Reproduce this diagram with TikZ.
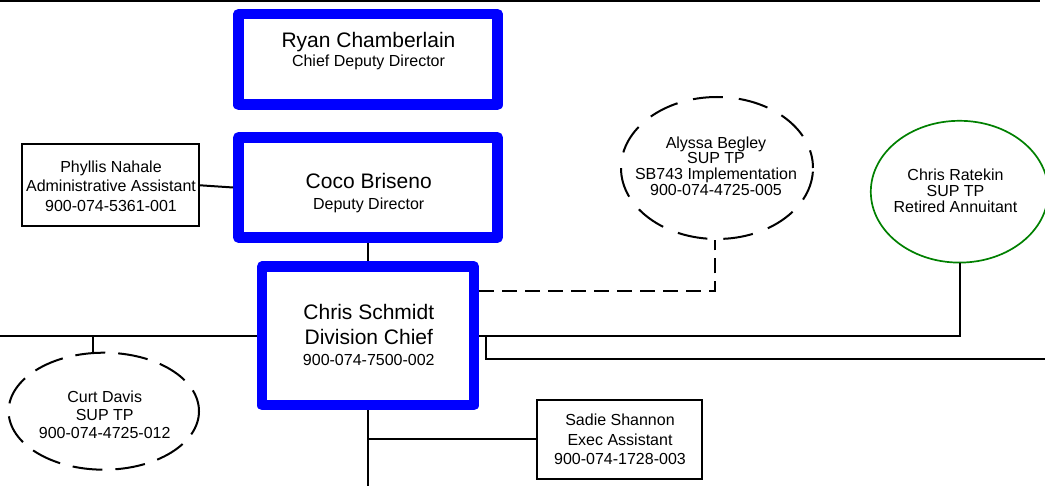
\documentclass[tikz,border=0pt]{standalone}
\usepackage{fontspec}
\setmainfont{Liberation Sans}
\usetikzlibrary{shapes.geometric}
\definecolor{orggreen}{RGB}{0,128,0}
\begin{document}
\begin{tikzpicture}[x=1pt,y=-1pt,
  bluebox/.style={draw=blue, line width=10.5pt, line join=round, rectangle, inner sep=0pt},
  plainbox/.style={draw=black, line width=2pt, rectangle, inner sep=0pt},
  dashell/.style={draw=black, line width=2pt, ellipse, inner sep=0pt},
  greenell/.style={draw=orggreen, line width=1.7pt, ellipse, inner sep=0pt},
  conn/.style={draw=black, line width=2pt},
  dconn/.style={conn, dash pattern=on 15pt off 8pt},
  big/.style={font=\fontsize{21}{25}\selectfont, anchor=base, inner sep=0pt},
  small/.style={font=\fontsize{16}{19}\selectfont, anchor=base, inner sep=0pt}]
\useasboundingbox (0,0) rectangle (1045,486);

% shapes
\node[bluebox, minimum width=259.3pt, minimum height=90.5pt] (ryan) at (368,59.5) {};
\node[bluebox, minimum width=259.3pt, minimum height=100pt] (coco) at (368,187.5) {};
\node[bluebox, minimum width=211.7pt, minimum height=138.5pt] (chris) at (368,336) {};
\node[plainbox, minimum width=177pt, minimum height=82pt] (phyllis) at (110.5,185.3) {};
\node[plainbox, minimum width=165.6pt, minimum height=79pt] (sadie) at (619.5,439.5) {};
\node[dashell, dash pattern=on 30pt off 13pt, dash phase=8pt, minimum width=190.4pt, minimum height=117pt] (curt) at (103.8,411.2) {};
\node[dashell, dash pattern=on 30pt off 16pt, dash phase=12pt, minimum width=192pt, minimum height=142pt] (alyssa) at (717,168) {};
\node[greenell, minimum width=177.4pt, minimum height=141.8pt] (ratekin) at (959.5,191.7) {};

% texts
\node[big] (ryanA) at (368.5,47.3) {Ryan Chamberlain};
\node[small] (ryanB) at (368.5,66.7) {Chief Deputy Director};
\node[big] (cocoA) at (368.7,188.5) {Coco Briseno};
\node[small] (cocoB) at (368.7,209.3) {Deputy Director};
\node[big] (chrisA) at (368.8,319.3) {Chris Schmidt};
\node[big] (chrisB) at (368.8,345) {Division Chief};
\node[small] (chrisC) at (368.8,366) {900-074-7500-002};
\node[small] (phylA) at (111,172.7) {Phyllis Nahale};
\node[small] (phylB) at (111,191.7) {Administrative Assistant};
\node[small] (phylC) at (111,211.7) {900-074-5361-001};
\node[small] (alyA) at (716,148.5) {Alyssa Begley};
\node[small] (alyB) at (716,164) {SUP TP};
\node[small] (alyC) at (716,180) {SB743 Implementation};
\node[small] (alyD) at (716,195.5) {900-074-4725-005};
\node[small] (ratA) at (955.5,181) {Chris Ratekin};
\node[small] (ratB) at (955.5,196.7) {SUP TP};
\node[small] (ratC) at (955.5,212.7) {Retired Annuitant};
\node[small] (curtA) at (104.7,402.3) {Curt Davis};
\node[small] (curtB) at (104.7,420.2) {SUP TP};
\node[small] (curtC) at (104.7,438.3) {900-074-4725-012};
\node[small] (sadA) at (620,425.7) {Sadie Shannon};
\node[small] (sadB) at (620,445.7) {Exec Assistant};
\node[small] (sadC) at (620,464.5) {900-074-1728-003};

% coordinates for free ends and bends
\coordinate (topL) at (0,0.8);
\coordinate (topR) at (1040,0.8);
\coordinate (leftEnd) at (0,336);
\coordinate (curtBr) at (92.7,336);
\coordinate (alyCorner) at (714.5,291);
\coordinate (ratCorner) at (959.5,336);
\coordinate (br1) at (486,336);
\coordinate (br2) at (486,359.3);
\coordinate (rightEnd) at (1045,359.3);
\coordinate (bottomEnd) at (368,486);
\coordinate (sadBr) at (368,439.5);

% connectors
\draw[conn] (topL) -- (topR);
\draw[conn] (phyllis.east) -- (coco.west);
\draw[conn] (coco.south) -- (chris.north);
\draw[conn] (chris.west) -- (leftEnd);
\draw[conn] (curtBr) -- (curtBr |- curt.north);
\draw[dconn] (chris.east |- alyCorner) -- (alyCorner) -- (alyCorner |- alyssa.south);
\draw[conn] (chris.east) -- (ratCorner) -- (ratekin.south);
\draw[conn] (chris.east) -- (br1) -- (br2) -- (rightEnd);
\draw[conn] (chris.south) -- (bottomEnd);
\draw[conn] (sadBr) -- (sadie.west);
\end{tikzpicture}
\end{document}
